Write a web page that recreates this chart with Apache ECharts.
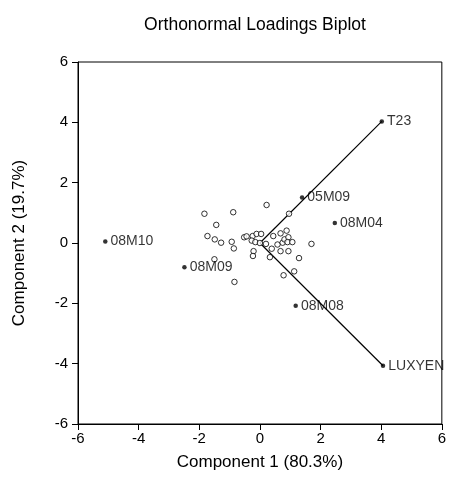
<!DOCTYPE html>
<html>
<head>
<meta charset="utf-8">
<script src="https://cdn.jsdelivr.net/npm/echarts@6/dist/echarts.min.js"></script>
<style>html,body{margin:0;padding:0;background:#fff}#c{width:449px;height:497px}</style>
</head>
<body>
<div id="c"></div>
<script>
const titleText = 'Orthonormal Loadings Biplot';
const xName = 'Component 1 (80.3%)';
const yName = 'Component 2 (19.7%)';
const axisTicks = [-6, -4, -2, 0, 2, 4, 6];

// unlabelled observation scores (open circles)
const scoresX = [0.22,-1.83,-0.88,0.96,-1.44,-1.73,-1.49,-1.28,-0.93,-0.86,-0.52,-0.44,-0.24,-0.11,0.04,-0.27,-0.15,0.20,0.44,0.68,0.88,0.58,0.75,0.81,0.94,0.91,1.07,0.39,0.68,0.94,1.70,-0.21,-0.23,0.33,1.29,-1.50,1.13,0.78,-0.84,0.0];
const scoresY = [1.26,0.97,1.02,0.97,0.60,0.23,0.12,0.01,0.04,-0.18,0.19,0.22,0.23,0.30,0.30,0.08,0.03,-0.03,0.23,0.32,0.41,-0.05,0.01,0.12,0.19,0.03,0.03,-0.19,-0.27,-0.27,-0.03,-0.27,-0.43,-0.47,-0.50,-0.54,-0.94,-1.07,-1.29,0.0];

// labelled points
const labelNames = ['08M10','08M09','05M09','08M04','08M08'];
const labelX = [-5.1,-2.49,1.39,2.47,1.18];
const labelY = [0.05,-0.80,1.51,0.66,-2.08];

// loading vectors
const loadNames = ['T23','LUXYEN'];
const loadX = [4.02,4.06];
const loadY = [4.03,-4.07];

const font = 'Arial, "Liberation Sans", sans-serif';
const chart = echarts.init(document.getElementById('c'), null, {renderer:'canvas'});

const series = [];
loadNames.forEach((n,i)=>{
  series.push({type:'line', data:[[0,0],[loadX[i],loadY[i]]], symbol:'none', silent:true,
    lineStyle:{color:'#000', width:1.2}, z:2});
});
series.push({type:'scatter', data:scoresX.map((x,i)=>[x,scoresY[i]]), symbol:'circle', symbolSize:5.5,
  itemStyle:{color:'#fff', borderColor:'#000', borderWidth:1}, z:3});
const lbl = {show:true, position:'right', distance:3, formatter:p=>p.name, color:'#000', fontSize:14, fontFamily:font};
series.push({type:'scatter', data:labelX.map((x,i)=>({value:[x,labelY[i]], name:labelNames[i]})),
  symbol:'circle', symbolSize:4.5, itemStyle:{color:'#000'}, z:4, label:lbl});
series.push({type:'scatter', data:loadX.map((x,i)=>({value:[x,loadY[i]], name:loadNames[i]})),
  symbol:'circle', symbolSize:4.5, itemStyle:{color:'#000'}, z:4, label:lbl});

const axisCommon = {
  type:'value', min:-6, max:6, interval:2,
  axisLine:{show:true, onZero:false, lineStyle:{color:'#000', width:1}},
  axisTick:{show:true, inside:false, length:6, lineStyle:{color:'#000'}},
  splitLine:{show:false},
  axisLabel:{color:'#000', fontSize:15, fontFamily:font},
  nameLocation:'middle',
  nameTextStyle:{color:'#000', fontSize:17, fontFamily:font}
};

chart.setOption({
  animation:false,
  backgroundColor:'#fff',
  title:{text:titleText, left:250, top:11, textAlign:'center',
    textStyle:{color:'#000', fontSize:17.5, fontWeight:'normal', fontFamily:font}},
  grid:{left:78, right:6, top:62, bottom:73, show:true, borderColor:'#000', borderWidth:1, backgroundColor:'transparent'},
  xAxis:Object.assign({}, axisCommon, {name:xName, nameGap:30, axisLabel:Object.assign({}, axisCommon.axisLabel, {margin:7})}),
  yAxis:Object.assign({}, axisCommon, {name:yName, nameGap:50, axisLabel:Object.assign({}, axisCommon.axisLabel, {margin:10})}),
  series:series
});
</script>
</body>
</html>
